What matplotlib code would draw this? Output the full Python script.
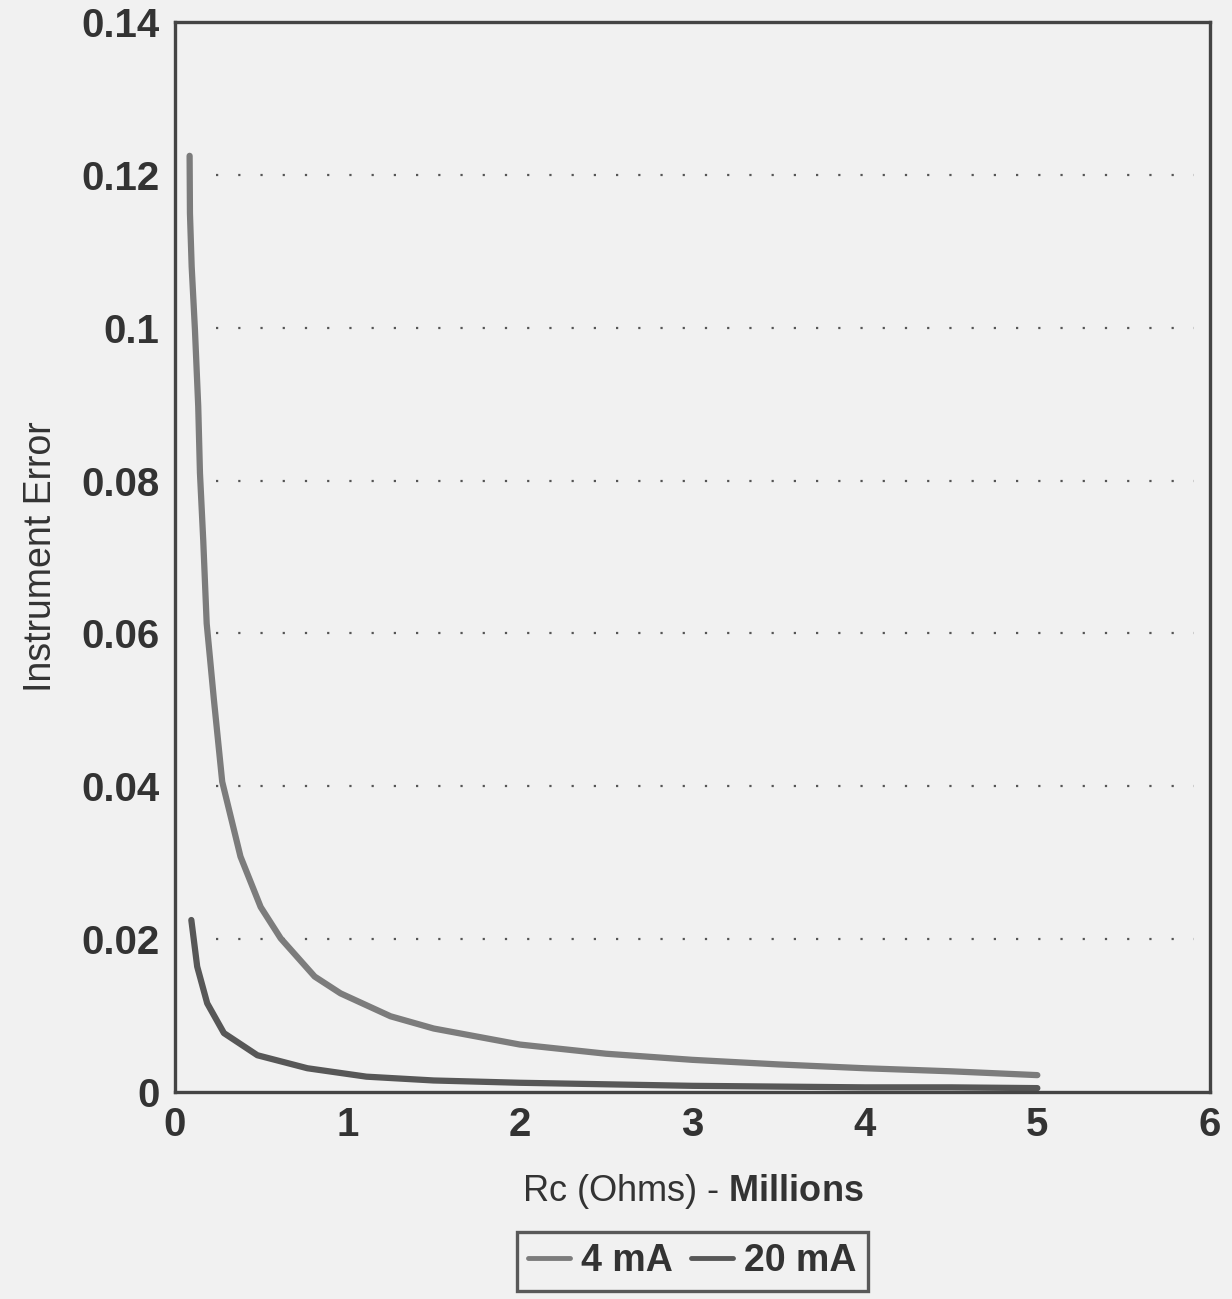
import matplotlib
matplotlib.use('Agg')
from matplotlib import pyplot as plt

# Rc in millions of ohms
rc_4ma = [0.085, 0.087, 0.097, 0.116, 0.135, 0.145, 0.164, 0.184, 0.203, 0.226, 0.274,
          0.38, 0.497, 0.613, 0.81, 0.96, 1.25, 1.5, 2.0, 2.5, 3.0, 3.5, 4.0, 4.5, 5.0]
err_4ma = [0.1225, 0.115, 0.108, 0.0997, 0.0897, 0.081, 0.0722, 0.0613, 0.0568, 0.0513, 0.0406,
           0.0308, 0.0242, 0.0201, 0.0151, 0.0129, 0.0099, 0.0083, 0.0062, 0.0050, 0.0042,
           0.0036, 0.0031, 0.0027, 0.0022]
rc_20ma = [0.095, 0.129, 0.187, 0.284, 0.478, 0.768, 1.11, 1.5, 2.0, 2.5, 3.0, 3.5, 4.0, 4.5, 5.0]
err_20ma = [0.0225, 0.0164, 0.0116, 0.0077, 0.0048, 0.0031, 0.0020, 0.0015, 0.0012, 0.0010,
            0.0008, 0.0007, 0.0006, 0.0006, 0.0005]

xticks = [0, 1, 2, 3, 4, 5, 6]
yticks = [0, 0.02, 0.04, 0.06, 0.08, 0.1, 0.12, 0.14]
ytick_labels = ['0', '0.02', '0.04', '0.06', '0.08', '0.1', '0.12', '0.14']

plt.rcParams['font.family'] = ['Liberation Sans', 'DejaVu Sans']
plt.rcParams['mathtext.fontset'] = 'custom'
plt.rcParams['mathtext.rm'] = 'Liberation Sans'
plt.rcParams['mathtext.bf'] = 'Liberation Sans:bold'

bg = '#f1f1f1'
ink = '#333333'

fig = plt.figure(figsize=(12.32, 12.99), dpi=100, facecolor=bg)
ax = fig.add_axes([0.142, 0.1594, 0.840, 0.8236])
ax.set_facecolor(bg)

ax.plot(rc_4ma, err_4ma, color='#7c7c7c', lw=4.5, solid_capstyle='round', label='4 mA')
ax.plot(rc_20ma, err_20ma, color='#575757', lw=4.5, solid_capstyle='round', label='20 mA')

ax.set_xlim(0, 6)
ax.set_ylim(0, 0.14)
ax.set_xticks(xticks)
ax.set_xticklabels([str(t) for t in xticks])
ax.set_yticks(yticks)
ax.set_yticklabels(ytick_labels)
ax.tick_params(length=0, labelsize=29, colors=ink)
ax.tick_params(axis='y', pad=11)
ax.tick_params(axis='x', pad=10)
for lab in ax.get_xticklabels() + ax.get_yticklabels():
    lab.set_fontweight('bold')

# dotted gridlines
for y in yticks[1:-1]:
    ax.axhline(y, xmin=0.04, xmax=0.985, color='#555555', lw=1.6, ls=(0, (1, 9)), zorder=0)

for sp in ax.spines.values():
    sp.set_linewidth(2.4)
    sp.set_color('#444444')

ax.set_ylabel('Instrument Error', fontsize=27, color=ink, labelpad=16)
ax.set_xlabel(r'Rc (Ohms) - $\bf{Millions}$', fontsize=26, color=ink, labelpad=20)

leg = ax.legend(loc='upper center', bbox_to_anchor=(0.5, -0.131), ncol=2, fontsize=27,
                frameon=True, fancybox=False, handlelength=1.1, handletextpad=0.3,
                columnspacing=0.5, borderpad=0.3, borderaxespad=0)
leg.get_frame().set_edgecolor(ink)
leg.get_frame().set_linewidth(2.4)
leg.get_frame().set_facecolor(bg)
for t in leg.get_texts():
    t.set_fontweight('bold')
    t.set_color(ink)
for h in leg.get_lines():
    h.set_linewidth(3.5)

plt.savefig('out.png', dpi=100, facecolor=fig.get_facecolor())
